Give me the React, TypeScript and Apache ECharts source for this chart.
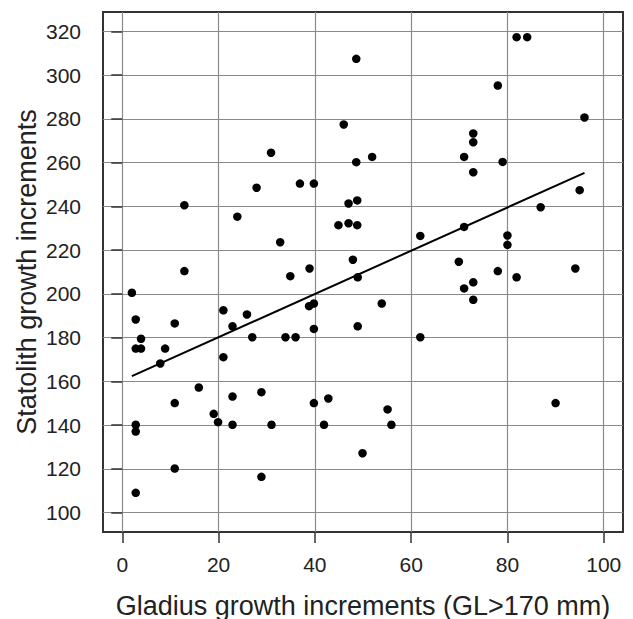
import React, { useEffect, useRef } from "react";
import * as echarts from "echarts";

const gladius = [
  48.6, 46.0, 30.9, 48.6, 27.9, 36.9, 39.8, 12.9, 47.0, 48.8,
  23.9, 44.9, 47.0, 48.8, 32.8, 47.9, 12.9, 38.9, 34.9,
  81.9, 84.1, 78.0, 96.0, 72.9, 72.9, 71.0, 79.0, 51.9, 72.9, 95.0,
  86.9, 71.0, 61.9, 80.0, 80.0, 69.9, 78.0, 94.1, 81.9, 48.9,
  72.9, 71.0, 72.9, 53.9, 48.9, 61.9, 55.1, 55.9, 49.9, 90.0,
  2.0, 2.8, 10.9, 21.0, 25.9, 22.9, 38.8, 39.8, 39.8, 3.9,
  2.8, 3.9, 8.9, 27.0, 33.9, 36.0, 21.0, 7.9, 15.9, 22.9,
  28.9, 10.9, 39.8, 42.8, 19.0, 19.9, 2.8, 2.8, 22.9, 31.0,
  41.9, 10.9, 28.9, 2.8,
];
const statolith = [
  307.4, 277.4, 264.5, 260.2, 248.5, 250.4, 250.4, 240.5, 241.3, 242.7,
  235.3, 231.4, 232.3, 231.4, 223.6, 215.6, 210.4, 211.6, 208.1,
  317.3, 317.3, 295.2, 280.6, 273.3, 269.3, 262.6, 260.3, 262.6, 255.6, 247.4,
  239.6, 230.6, 226.5, 226.7, 222.4, 214.7, 210.4, 211.6, 207.6, 207.6,
  205.3, 202.5, 197.3, 195.6, 185.2, 180.2, 147.2, 140.2, 127.2, 150.1,
  200.5, 188.3, 186.5, 192.5, 190.6, 185.2, 194.4, 195.6, 184.0, 179.5,
  175.0, 175.0, 175.0, 180.2, 180.2, 180.2, 171.1, 168.2, 157.2, 153.1,
  155.1, 150.1, 150.1, 152.2, 145.2, 141.4, 140.2, 137.1, 140.2, 140.2,
  140.2, 120.2, 116.4, 109.1,
];
const fitX = [2.0, 96.0];
const fitY = [162.4, 255.3];
const xTicks = [0, 20, 40, 60, 80, 100];
const yTicks = [100, 120, 140, 160, 180, 200, 220, 240, 260, 280, 300, 320];

const FONT = "Liberation Sans, Arial, sans-serif";

export default function App() {
  const ref = useRef<HTMLDivElement>(null);
  useEffect(() => {
    if (!ref.current) return;
    const chart = echarts.init(ref.current, null, { renderer: "svg" });
    const points = gladius.map((x, i) => [x, statolith[i]]);
    const fit = fitX.map((x, i) => [x, fitY[i]]);
    chart.setOption({
      animation: false,
      backgroundColor: "#ffffff",
      grid: {
        left: 103,
        top: 12,
        width: 520,
        height: 520,
        containLabel: false,
        outerBoundsMode: "none",
        show: true,
        borderColor: "#333333",
        borderWidth: 2,
        backgroundColor: "transparent",
      },
      xAxis: {
        type: "value",
        min: -4,
        max: 104,
        name: "Gladius growth increments (GL>170 mm)",
        nameLocation: "middle",
        nameGap: 60,
        nameMoveOverlap: false,
        nameTextStyle: { fontFamily: FONT, fontSize: 27, color: "#222222" },
        axisLine: { show: false },
        axisTick: {
          show: true,
          customValues: xTicks,
          length: 11,
          lineStyle: { color: "#333333", width: 1.5 },
        },
        axisLabel: {
          customValues: xTicks,
          margin: 22,
          fontFamily: FONT,
          fontSize: 21,
          color: "#222222",
        },
        splitLine: { show: true, lineStyle: { color: "#8a8a8a", width: 1.2 } },
      },
      yAxis: {
        type: "value",
        min: 91.2,
        max: 328.8,
        name: "Statolith growth increments",
        nameLocation: "middle",
        nameGap: 63,
        nameMoveOverlap: false,
        nameTextStyle: { fontFamily: FONT, fontSize: 27, color: "#222222" },
        axisLine: { show: false },
        axisTick: {
          show: true,
          customValues: yTicks,
          length: 11,
          lineStyle: { color: "#333333", width: 1.5 },
        },
        axisLabel: {
          customValues: yTicks,
          margin: 22,
          fontFamily: FONT,
          fontSize: 21,
          color: "#222222",
        },
        splitLine: { show: true, lineStyle: { color: "#8a8a8a", width: 1.2 } },
      },
      series: [
        {
          type: "scatter",
          data: points,
          symbol: "circle",
          symbolSize: 8.5,
          itemStyle: { color: "#000000", opacity: 1 },
          z: 3,
        },
        {
          type: "line",
          data: fit,
          showSymbol: false,
          symbol: "none",
          lineStyle: { color: "#000000", width: 2 },
          z: 4,
        },
      ],
    });
    return () => chart.dispose();
  }, []);
  return (
    <div
      ref={ref}
      style={{ position: "absolute", left: 0, top: 0, width: 633, height: 619 }}
    />
  );
}
